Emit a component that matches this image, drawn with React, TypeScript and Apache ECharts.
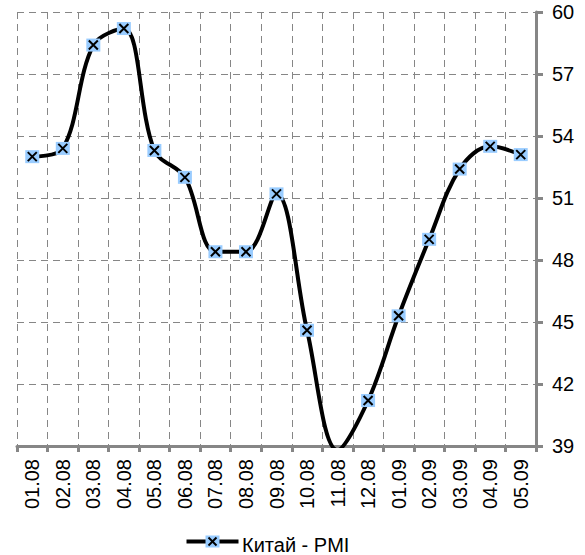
import React, { useEffect, useRef } from "react";
import * as echarts from "echarts";

const categories = ["01.08","02.08","03.08","04.08","05.08","06.08","07.08","08.08","09.08","10.08","11.08","12.08","01.09","02.09","03.09","04.09","05.09"];
const pmiValues = [53.0, 53.4, 58.4, 59.2, 53.3, 52.0, 48.4, 48.4, 51.2, 44.6, 38.8, 41.2, 45.3, 49.0, 52.4, 53.5, 53.1];
const seriesName = "Китай - PMI";

const FONT = "Liberation Sans";
const GRID_COLOR = "#868686";
const MARK_COLOR = "#99CCFF";

export default function App() {
  const ref = useRef<HTMLDivElement>(null);
  useEffect(() => {
    if (!ref.current) return;
    const chart = echarts.init(ref.current, null, { renderer: "svg" });
    chart.setOption({
      animation: false,
      textStyle: { fontFamily: FONT },
      grid: { left: 17, right: 49, top: 12, bottom: 109, containLabel: false },
      legend: {
        data: [{ name: seriesName, icon: "rect", itemStyle: { opacity: 0 } }],
        left: 180,
        top: 530,
        itemWidth: 56,
        itemHeight: 11,
        itemGap: 4,
        textStyle: { fontSize: 20, color: "#000", fontFamily: FONT, padding: [0, 0, 0, -4] },
      },
      xAxis: {
        type: "category",
        data: categories,
        boundaryGap: true,
        axisLine: { show: true, lineStyle: { color: GRID_COLOR, width: 3 } },
        axisTick: { show: true, interval: 0, length: 6, lineStyle: { color: GRID_COLOR, width: 3 } },
        axisLabel: { interval: 0, rotate: 90, fontSize: 20, color: "#000", margin: 13, fontFamily: FONT },
        splitLine: { show: true, interval: 0, lineStyle: { color: GRID_COLOR, width: 1, type: [7, 5] } },
      },
      yAxis: {
        type: "value",
        position: "right",
        min: 39,
        max: 60,
        interval: 3,
        axisLine: { show: true, lineStyle: { color: GRID_COLOR, width: 3 } },
        axisTick: { show: true, length: 7, lineStyle: { color: GRID_COLOR, width: 3 } },
        axisLabel: { fontSize: 20, color: "#000", margin: 16, fontFamily: FONT },
        splitLine: { show: true, lineStyle: { color: GRID_COLOR, width: 1, type: [7, 5] } },
      },
      series: [
        {
          name: seriesName,
          type: "line",
          data: pmiValues,
          smooth: 0.35,
          clip: true,
          symbol: "rect",
          symbolSize: [14, 13],
          showSymbol: true,
          lineStyle: { color: "#000", width: 4 },
          itemStyle: { color: MARK_COLOR, borderWidth: 0 },
          z: 2,
        },
        {
          name: "marks",
          type: "line",
          data: pmiValues,
          clip: true,
          symbol: "path://M0,0L10,10M10,0L0,10",
          symbolSize: 9,
          showSymbol: true,
          lineStyle: { width: 0, opacity: 0 },
          itemStyle: { color: "none", borderColor: "#000", borderWidth: 2 },
          z: 3,
          silent: true,
        },
      ],
      graphic: [
        {
          type: "group",
          left: 184,
          top: 535,
          z: 100,
          children: [
            { type: "line", shape: { x1: 0, y1: 6, x2: 52, y2: 6 }, style: { stroke: "#000", lineWidth: 4 } },
            { type: "rect", shape: { x: 19, y: 0, width: 14, height: 12 }, style: { fill: MARK_COLOR } },
            { type: "line", shape: { x1: 22, y1: 2, x2: 30, y2: 10 }, style: { stroke: "#000", lineWidth: 2 } },
            { type: "line", shape: { x1: 30, y1: 2, x2: 22, y2: 10 }, style: { stroke: "#000", lineWidth: 2 } },
          ],
        },
      ],
    });
    return () => chart.dispose();
  }, []);
  return <div ref={ref} style={{ width: 585, height: 555, position: "absolute", left: 0, top: 0, background: "#fff" }} />;
}
